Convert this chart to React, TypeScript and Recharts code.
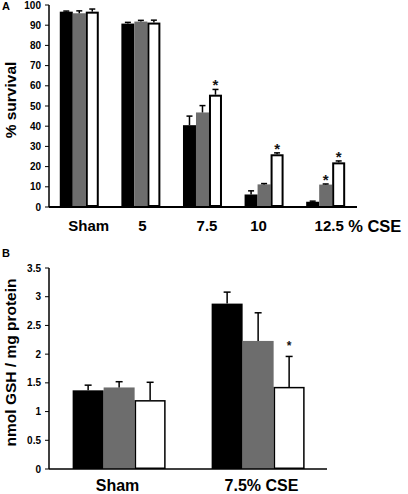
import { BarChart, Bar, XAxis, YAxis, Label } from 'recharts'

const FONT = 'Arial, "Liberation Sans", Helvetica, sans-serif'
const BLACK = '#000000'
const GREY = '#6d6d6d'
const WHITE = '#ffffff'

// Panel A: % survival vs % CSE
const doseLabels = ['Sham', '5', '7.5', '10', '12.5']
const survBlack = [96.7, 90.8, 40.5, 6.2, 2.6]
const survBlackErr = [0.3, 0.6, 4.5, 1.8, 0.3]
const survGrey = [95.9, 91.8, 46.8, 11.2, 11.1]
const survGreyErr = [1.2, 0.6, 3.4, 0.4, 0.3]
const survWhite = [96.7, 91.3, 55.6, 26.1, 22.1]
const survWhiteErr = [1.3, 1.2, 2.6, 0.7, 0.7]
const survGreySig = [false, false, false, false, true]
const survWhiteSig = [false, false, true, true, true]
const survTicks = [0, 10, 20, 30, 40, 50, 60, 70, 80, 90, 100]

// Panel B: GSH content
const gshLabels = ['Sham', '7.5% CSE']
const gshBlack = [1.37, 2.88]
const gshBlackErr = [0.09, 0.2]
const gshGrey = [1.42, 2.23]
const gshGreyErr = [0.1, 0.49]
const gshWhite = [1.2, 1.43]
const gshWhiteErr = [0.31, 0.53]
const gshWhiteSig = [false, true]
const gshTicks = [0, 0.5, 1, 1.5, 2, 2.5, 3, 3.5]

// hand-placed category labels in the original figure sit a bit off-centre
const doseLabelNudge = [9, 1, 4, -6, 3]
const gshLabelNudge = [-1, 4]

const survData = doseLabels.map((name, i) => ({
  name,
  black: survBlack[i],
  blackErr: survBlackErr[i],
  blackSig: false,
  grey: survGrey[i],
  greyErr: survGreyErr[i],
  greySig: survGreySig[i],
  white: survWhite[i],
  whiteErr: survWhiteErr[i],
  whiteSig: survWhiteSig[i],
}))

const gshData = gshLabels.map((name, i) => ({
  name,
  black: gshBlack[i],
  blackErr: gshBlackErr[i],
  blackSig: false,
  grey: gshGrey[i],
  greyErr: gshGreyErr[i],
  greySig: false,
  white: gshWhite[i],
  whiteErr: gshWhiteErr[i],
  whiteSig: gshWhiteSig[i],
}))

interface BarOpts {
  outline: number
  cap: number
  errWidth: number
  starSize: number
  starDy: number
}

// bar + one-sided (upper) error whisker + significance star
function barWithError(key: string, opts: BarOpts) {
  return (props: any) => {
    const { x, y, width, height, payload, fill } = props
    const v = payload[key]
    const err = payload[key + 'Err']
    const perUnit = v ? height / v : 0
    const top = y - err * perUnit
    const cx = x + width / 2
    const sw = opts.outline
    return (
      <g>
        {sw > 0 ? (
          <rect
            x={x + sw / 2}
            y={y + sw / 2}
            width={Math.max(width - sw, 0)}
            height={Math.max(height - sw, 0)}
            fill={fill}
            stroke={BLACK}
            strokeWidth={sw}
          />
        ) : (
          <rect x={x} y={y} width={width} height={height} fill={fill} />
        )}
        <line x1={cx} x2={cx} y1={y} y2={top} stroke={BLACK} strokeWidth={opts.errWidth} />
        <line
          x1={cx - opts.cap / 2}
          x2={cx + opts.cap / 2}
          y1={top}
          y2={top}
          stroke={BLACK}
          strokeWidth={opts.errWidth}
        />
        {payload[key + 'Sig'] && (
          <text
            x={cx}
            y={top + opts.starDy}
            textAnchor="middle"
            fontFamily={FONT}
            fontWeight="bold"
            fontSize={opts.starSize}
            fill="#111"
          >
            *
          </text>
        )}
      </g>
    )
  }
}

const optsA = { cap: 6, errWidth: 1.5, starSize: 15, starDy: 1 }
const optsB = { cap: 7, errWidth: 1.5, starSize: 12, starDy: -6 }

function DoseTick(props: any) {
  const { x, y, payload, index } = props
  const last = index === doseLabels.length - 1
  return (
    <g>
      <text
        x={x + doseLabelNudge[index]}
        y={y}
        dy="0.71em"
        textAnchor="middle"
        fontFamily={FONT}
        fontWeight="bold"
        fontSize={15}
        fill={BLACK}
      >
        {payload.value}
      </text>
      {last && (
        <text x={x + 22} y={y} dy="0.71em" textAnchor="start" fontFamily={FONT} fontWeight="bold" fontSize={16.5} fill={BLACK}>
          % CSE
        </text>
      )}
    </g>
  )
}

function GshTick(props: any) {
  const { x, y, payload, index } = props
  return (
    <text
      x={x + gshLabelNudge[index]}
      y={y}
      dy="0.71em"
      textAnchor="middle"
      fontFamily={FONT}
      fontWeight="bold"
      fontSize={16}
      fill={BLACK}
    >
      {payload.value}
    </text>
  )
}

const yTick = { fontFamily: FONT, fontWeight: 'bold', fontSize: 10, fill: BLACK }
const axisLine = { stroke: BLACK, strokeWidth: 1.5 }
const panelLetter = {
  position: 'absolute' as const,
  left: 2,
  fontFamily: FONT,
  fontWeight: 'bold' as const,
  fontSize: 11,
  lineHeight: '11px',
}

export default function App() {
  return (
    <div style={{ position: 'absolute', left: 0, top: 0, width: 408, height: 494, background: '#fff' }}>
      <div style={{ ...panelLetter, top: 1 }}>A</div>
      <div style={{ ...panelLetter, top: 248 }}>B</div>

      <div style={{ position: 'absolute', left: 0, top: 0 }}>
        <BarChart
          width={408}
          height={240}
          data={survData}
          margin={{ top: 5, right: 51, left: 0, bottom: 0 }}
          barCategoryGap="17.5%"
          barGap={0}
        >
          <YAxis
            width={49}
            domain={[0, 100]}
            ticks={survTicks}
            interval={0}
            tick={yTick}
            tickSize={4}
            tickMargin={4}
            tickLine={{ stroke: BLACK, strokeWidth: 1 }}
            axisLine={axisLine}
          >
            <Label
              value="% survival"
              angle={-90}
              position="center"
              dx={-14.5}
              dy={-6}
              style={{ fontFamily: FONT, fontWeight: 'bold', fontSize: 15.5, fill: BLACK }}
            />
          </YAxis>
          <XAxis
            dataKey="name"
            height={33}
            tickLine={false}
            tickSize={0}
            tickMargin={13}
            axisLine={{ stroke: BLACK, strokeWidth: 2 }}
            tick={<DoseTick />}
            interval={0}
          />
          <Bar dataKey="black" fill={BLACK} isAnimationActive={false} shape={barWithError('black', { ...optsA, outline: 0 })} />
          <Bar dataKey="grey" fill={GREY} isAnimationActive={false} shape={barWithError('grey', { ...optsA, outline: 0 })} />
          <Bar dataKey="white" fill={WHITE} isAnimationActive={false} shape={barWithError('white', { ...optsA, outline: 2 })} />
        </BarChart>
      </div>

      <div style={{ position: 'absolute', left: 0, top: 240 }}>
        <BarChart
          width={408}
          height={254}
          data={gshData}
          margin={{ top: 28, right: 81, left: 0, bottom: 0 }}
          barCategoryGap="17%"
          barGap={0}
        >
          <YAxis
            width={49}
            domain={[0, 3.5]}
            ticks={gshTicks}
            interval={0}
            tick={yTick}
            tickSize={4}
            tickMargin={4}
            tickLine={{ stroke: BLACK, strokeWidth: 1 }}
            axisLine={axisLine}
          >
            <Label
              value="nmol GSH / mg protein"
              angle={-90}
              position="center"
              dx={-14.5}
              dy={-6}
              style={{ fontFamily: FONT, fontWeight: 'bold', fontSize: 15.5, fill: BLACK }}
            />
          </YAxis>
          <XAxis
            dataKey="name"
            height={25}
            tickLine={false}
            tickSize={0}
            tickMargin={11}
            axisLine={axisLine}
            tick={<GshTick />}
            interval={0}
          />
          <Bar dataKey="black" fill={BLACK} isAnimationActive={false} shape={barWithError('black', { ...optsB, outline: 0 })} />
          <Bar dataKey="grey" fill={GREY} isAnimationActive={false} shape={barWithError('grey', { ...optsB, outline: 0 })} />
          <Bar dataKey="white" fill={WHITE} isAnimationActive={false} shape={barWithError('white', { ...optsB, outline: 1.5 })} />
        </BarChart>
      </div>
    </div>
  )
}
